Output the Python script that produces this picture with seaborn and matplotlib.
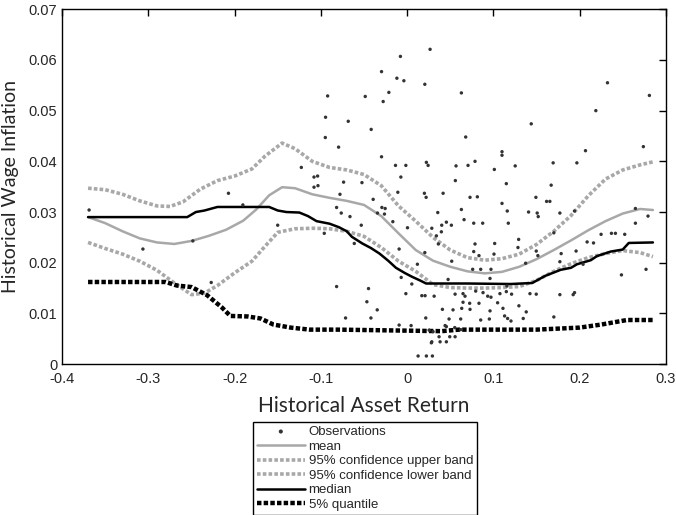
import matplotlib
matplotlib.use("Agg")
import matplotlib.pyplot as plt
import seaborn as sns
import pandas as pd

# scatter observations (asset return, wage inflation)
obs_x = [0.0266, -0.0078, -0.0297, -0.0119, -0.0038, 0.0205, -0.0212, -0.0922, -0.0486, -0.0278,
         -0.0946, -0.0683, -0.0417, -0.0949, -0.0795, -0.0297, -0.0135, -0.0015, 0.0223, 0.0243,
         -0.0073, -0.0737, -0.0524, -0.0108, 0.0200, -0.0779,
         0.0629, 0.1439, 0.0679, 0.1100, 0.1100, 0.0787, 0.0567, 0.0706, 0.1011, 0.1253,
         0.0559, 0.1150, 0.0417,
         0.2323, 0.2809, 0.2188, 0.2739, 0.2068, 0.1693, 0.1968, 0.1670,
         0.0220, -0.0394, -0.0818, -0.0293, -0.0255, -0.0764, -0.0344, -0.0263, -0.0663, -0.0166,
         -0.0532, 0.0004, -0.0961, -0.0613, 0.0205, -0.0093, 0.0119, -0.0069, 0.0054, -0.0818,
         -0.0448, -0.0015, 0.0170, 0.0208, -0.0467, -0.0347, -0.0714, -0.0420, 0.0216, -0.0093,
         0.0046, 0.0255, 0.0281, 0.0127, 0.0223, 0.0293,
         0.0729, 0.0814, 0.1493, 0.1100, 0.0355, 0.0629, 0.1161, 0.1408, 0.1508, 0.1520,
         0.0660, 0.0455, 0.0401, 0.0513, 0.0772, 0.0876, 0.1173, 0.0286, 0.0397, 0.0339,
         0.1293, 0.0787, 0.1015, 0.0362, 0.1285, 0.0772, 0.1497, 0.0833, 0.1007, 0.1516,
         0.0517, 0.1374, 0.0760, 0.0853, 0.0972, 0.0475, 0.0961, 0.1157, 0.0313, 0.0556,
         0.0648, 0.0671, 0.0795, 0.0880, 0.0934, 0.0972, 0.1076, 0.1150, 0.1211, 0.1424,
         0.1497, 0.0648, 0.0725, 0.0833, 0.1049, 0.1296, 0.0729, 0.0633, 0.1111, 0.1381,
         0.0409, 0.0532, 0.0961, 0.1130, 0.0486, 0.0621, 0.0853, 0.0953, 0.1165, 0.1204,
         0.1346, 0.0440, 0.0455, 0.0552, 0.0621, 0.0301, 0.0370, 0.0494, 0.0556, 0.0286,
         0.0382, 0.0455,
         0.1617, 0.1655, 0.1771, 0.1941, 0.2647, 0.2793, 0.2647, 0.1701, 0.2249, 0.2369,
         0.2415, 0.2523, 0.2087, 0.2161, 0.1959, 0.1786, 0.1771, 0.2040, 0.2485, 0.2770,
         0.1771, 0.1925, 0.1941, 0.1701,
         -0.2072, -0.1227, -0.1080, -0.1038, -0.1080, -0.1034, -0.3688, -0.1905, -0.2485, -0.3064,
         -0.1501, -0.2272]
obs_y = [0.0621, 0.0607, 0.0577, 0.0564, 0.0559, 0.0552, 0.0536, 0.0529, 0.0528, 0.0518,
         0.0487, 0.0479, 0.0463, 0.0447, 0.0428, 0.0409, 0.0392, 0.0392, 0.0398, 0.0392,
         0.0369, 0.0359, 0.0358, 0.0339, 0.0337, 0.0335,
         0.0535, 0.0474, 0.0448, 0.0419, 0.0412, 0.0400, 0.0391, 0.0392, 0.0384, 0.0391,
         0.0362, 0.0356, 0.0337,
         0.0555, 0.0530, 0.0500, 0.0429, 0.0421, 0.0397, 0.0397, 0.0353,
         0.0329, 0.0325, 0.0309, 0.0309, 0.0307, 0.0298, 0.0298, 0.0296, 0.0291, 0.0281,
         0.0274, 0.0269, 0.0258, 0.0238, 0.0220, 0.0227, 0.0197, 0.0171, 0.0158, 0.0153,
         0.0149, 0.0139, 0.0135, 0.0135, 0.0123, 0.0107, 0.0091, 0.0091, 0.0091, 0.0077,
         0.0076, 0.0067, 0.0042, 0.0016, 0.0016, 0.0016,
         0.0329, 0.0330, 0.0329, 0.0317, 0.0299, 0.0305, 0.0302, 0.0300, 0.0298, 0.0291,
         0.0285, 0.0280, 0.0274, 0.0274, 0.0278, 0.0278, 0.0278, 0.0268, 0.0261, 0.0253,
         0.0246, 0.0237, 0.0238, 0.0237, 0.0230, 0.0222, 0.0223, 0.0214, 0.0217, 0.0214,
         0.0203, 0.0199, 0.0187, 0.0187, 0.0187, 0.0167, 0.0169, 0.0154, 0.0134, 0.0138,
         0.0139, 0.0134, 0.0144, 0.0141, 0.0134, 0.0132, 0.0139, 0.0143, 0.0138, 0.0139,
         0.0138, 0.0122, 0.0120, 0.0120, 0.0121, 0.0115, 0.0108, 0.0110, 0.0110, 0.0103,
         0.0108, 0.0107, 0.0105, 0.0095, 0.0089, 0.0089, 0.0087, 0.0089, 0.0090, 0.0085,
         0.0090, 0.0076, 0.0074, 0.0072, 0.0068, 0.0064, 0.0054, 0.0054, 0.0054, 0.0044,
         0.0044, 0.0044,
         0.0321, 0.0321, 0.0298, 0.0302, 0.0307, 0.0292, 0.0278, 0.0259, 0.0256, 0.0258,
         0.0258, 0.0256, 0.0241, 0.0239, 0.0223, 0.0218, 0.0202, 0.0197, 0.0176, 0.0187,
         0.0137, 0.0137, 0.0141, 0.0093,
         0.0337, 0.0388, 0.0369, 0.0371, 0.0349, 0.0352, 0.0304, 0.0314, 0.0243, 0.0227,
         0.0274, 0.0161]

# mean curve
mean_x = [-0.37, -0.35, -0.33, -0.31, -0.29, -0.27, -0.25, -0.23, -0.21, -0.19, -0.175, -0.16,
          -0.145, -0.13, -0.11, -0.09, -0.07, -0.05, -0.03, -0.01, 0.01, 0.03, 0.05, 0.07, 0.09,
          0.11, 0.13, 0.15, 0.17, 0.19, 0.21, 0.23, 0.25, 0.27, 0.285]
mean_y = [0.0290, 0.0278, 0.0262, 0.0248, 0.0240, 0.0237, 0.0243, 0.0253, 0.0265, 0.0283, 0.0305, 0.0333,
          0.0349, 0.0347, 0.0335, 0.0328, 0.0322, 0.0314, 0.0292, 0.0258, 0.0225, 0.0204, 0.0192, 0.0183, 0.0179,
          0.0182, 0.0192, 0.0207, 0.0225, 0.0244, 0.0264, 0.0282, 0.0297, 0.0306, 0.0304]

# 95% confidence upper band
upper_x = [-0.37, -0.35, -0.33, -0.31, -0.29, -0.275, -0.26, -0.24, -0.22, -0.20, -0.18, -0.165,
           -0.145, -0.13, -0.11, -0.09, -0.07, -0.05, -0.03, -0.01, 0.01, 0.03, 0.05, 0.07, 0.09,
           0.11, 0.13, 0.15, 0.17, 0.19, 0.21, 0.23, 0.25, 0.27, 0.285]
upper_y = [0.0347, 0.0344, 0.0335, 0.0322, 0.0312, 0.0311, 0.0320, 0.0345, 0.0362, 0.0371, 0.0385, 0.0410,
           0.0436, 0.0425, 0.0400, 0.0388, 0.0383, 0.0374, 0.0352, 0.0312, 0.0282, 0.0250, 0.0225, 0.0210, 0.0205,
           0.0208, 0.0217, 0.0236, 0.0262, 0.0293, 0.0332, 0.0365, 0.0383, 0.0393, 0.0399]

# 95% confidence lower band
lower_x = [-0.37, -0.35, -0.33, -0.31, -0.29, -0.27, -0.25, -0.235, -0.22, -0.20, -0.18, -0.165,
           -0.15, -0.13, -0.11, -0.09, -0.07, -0.05, -0.03, -0.01, 0.01, 0.03, 0.05, 0.07, 0.09,
           0.11, 0.13, 0.15, 0.17, 0.19, 0.21, 0.23, 0.25, 0.27, 0.285]
lower_y = [0.0240, 0.0228, 0.0217, 0.0203, 0.0185, 0.0160, 0.0137, 0.0140, 0.0155, 0.0180, 0.0203, 0.0232,
           0.0260, 0.0267, 0.0268, 0.0267, 0.0262, 0.0252, 0.0230, 0.0203, 0.0183, 0.0157, 0.0151, 0.0150, 0.0150,
           0.0151, 0.0153, 0.0165, 0.0183, 0.0198, 0.0210, 0.0218, 0.0224, 0.0220, 0.0212]

# median
median_x = [-0.37, -0.255, -0.245, -0.235, -0.22, -0.16, -0.15, -0.14, -0.125, -0.115, -0.105, -0.09,
            -0.079, -0.07, -0.064, -0.052, -0.042, -0.032, -0.022, -0.013, -0.003, 0.006, 0.015, 0.022,
            0.07, 0.12, 0.145, 0.16, 0.178, 0.19, 0.197, 0.213, 0.22, 0.236, 0.25, 0.257, 0.285]
median_y = [0.0290, 0.0290, 0.0300, 0.0303, 0.0310, 0.0310, 0.0303, 0.0300, 0.0299, 0.0292, 0.0282, 0.0277,
            0.0270, 0.0262, 0.0251, 0.0238, 0.0229, 0.0218, 0.0204, 0.0190, 0.0180, 0.0172, 0.0165, 0.0159,
            0.0159, 0.0158, 0.0160, 0.0174, 0.0186, 0.0190, 0.0197, 0.0205, 0.0213, 0.0222, 0.0226, 0.0239, 0.0240]

# 5% quantile
q05_x = [-0.37, -0.28, -0.267, -0.25, -0.232, -0.215, -0.205, -0.185, -0.17, -0.155, -0.135, -0.113,
         -0.08, -0.04, 0.0, 0.04, 0.06, 0.10, 0.15, 0.20, 0.225, 0.245, 0.255, 0.285]
q05_y = [0.0162, 0.0162, 0.0155, 0.0152, 0.0136, 0.0112, 0.0095, 0.0094, 0.0090, 0.0078, 0.0072, 0.0068,
         0.0068, 0.0067, 0.0066, 0.0065, 0.0068, 0.0068, 0.0068, 0.0072, 0.0078, 0.0084, 0.0087, 0.0087]

x_ticks = [-0.4, -0.3, -0.2, -0.1, 0, 0.1, 0.2, 0.3]
y_ticks = [0, 0.01, 0.02, 0.03, 0.04, 0.05, 0.06, 0.07]

sns.set_style("white")
plt.rcParams['font.family'] = ['Liberation Sans', 'DejaVu Sans']
plt.rcParams['xtick.direction'] = 'in'
plt.rcParams['ytick.direction'] = 'in'
plt.rcParams['xtick.top'] = True
plt.rcParams['ytick.right'] = True

fig, ax = plt.subplots(figsize=(6.76, 5.15), dpi=100)
fig.subplots_adjust(left=0.092, right=0.985, top=0.982, bottom=0.293)

# observations
obs = pd.DataFrame({'x': obs_x, 'y': obs_y})
sns.scatterplot(x='x', y='y', data=obs, ax=ax, marker='o', s=6, color='#333333',
                edgecolor='none', label='Observations', zorder=3)

# curves
gray = '#a8a8a8'
sns.lineplot(x=mean_x, y=mean_y, ax=ax, color=gray, lw=1.8, sort=False, estimator=None, label='mean')
sns.lineplot(x=upper_x, y=upper_y, ax=ax, color=gray, lw=2.6, ls=(0, (1, 0.6)), sort=False, estimator=None,
             label='95% confidence upper band')
sns.lineplot(x=lower_x, y=lower_y, ax=ax, color=gray, lw=2.6, ls=(0, (1, 0.6)), sort=False, estimator=None,
             label='95% confidence lower band')
sns.lineplot(x=median_x, y=median_y, ax=ax, color='black', lw=1.8, sort=False, estimator=None, label='median')
sns.lineplot(x=q05_x, y=q05_y, ax=ax, color='black', lw=3.2, ls=(0, (1, 0.5)), sort=False, estimator=None,
             label='5% quantile')

ax.set_xlim(-0.4, 0.3)
ax.set_ylim(0, 0.07)
ax.set_xticks(x_ticks)
ax.set_xticklabels(['-0.4', '-0.3', '-0.2', '-0.1', '0', '0.1', '0.2', '0.3'])
ax.set_yticks(y_ticks)
ax.set_yticklabels(['0', '0.01', '0.02', '0.03', '0.04', '0.05', '0.06', '0.07'])
ax.tick_params(labelsize=10.5, length=5, width=1, color='black')
ax.tick_params(axis='x', pad=6)
for s in ax.spines.values():
    s.set_color('black')
    s.set_linewidth(1)

ax.set_xlabel("Historical Asset Return", fontsize=15, family='Lato', labelpad=7)
ax.set_ylabel("Historical Wage Inflation", fontsize=14, family='Lato', labelpad=7)

# legend below the axes
handles, labels = ax.get_legend_handles_labels()
ax.legend_.remove()
leg = fig.legend(handles, labels, loc='upper center', bbox_to_anchor=(0.54, 0.181), fontsize=9.5,
                 handlelength=3.6, labelspacing=0.18, handletextpad=0.3, borderpad=0.3, borderaxespad=0,
                 frameon=True, fancybox=False, framealpha=1, edgecolor='black', markerscale=1.2)
leg.get_frame().set_linewidth(1)

fig.savefig('out.png', dpi=100)
